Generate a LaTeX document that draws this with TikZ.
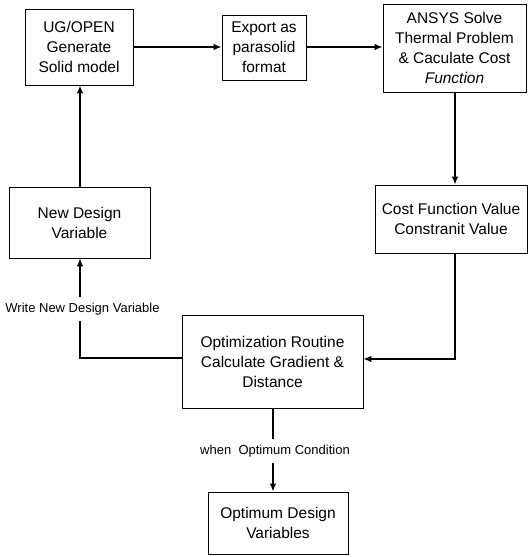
\documentclass[tikz,border=0pt]{standalone}
\usepackage{fontspec}
\setmainfont{Liberation Sans}
\usetikzlibrary{arrows.meta}
\begin{document}
\begin{tikzpicture}[x=1pt,y=-1pt,
  box/.style={draw=black, line width=0.8pt, align=center, inner sep=0pt,
              font=\fontsize{15.5}{20}\selectfont},
  arr/.style={line width=1.3pt, -{Latex[length=8pt,width=6.5pt]}},
  conn/.style={line width=1.3pt},
  lab/.style={fill=white, inner xsep=1pt, inner ysep=6pt, font=\fontsize{13}{15}\selectfont}]
\useasboundingbox (0,0) rectangle (530,557);
\node[box, minimum width=108pt, minimum height=76pt] (ug) at (79,47) {UG/OPEN\\Generate\\Solid model};
\node[box, minimum width=84pt, minimum height=65pt] (exp) at (264,47.5) {Export as\\parasolid\\format};
\node[box, minimum width=143pt, minimum height=88pt] (ans) at (454.5,48) {ANSYS Solve\\Thermal Problem\\\& Caculate Cost\\\textit{Function}};
\node[box, minimum width=152pt, minimum height=68pt] (cost) at (451,219) {Cost Function Value\\Constranit Value};
\node[box, minimum width=141pt, minimum height=71pt] (nd) at (79.5,222.5) {New Design\\Variable};
\node[box, minimum width=181pt, minimum height=93pt] (opt) at (272.5,361.5) {Optimization Routine\\Calculate Gradient \&\\Distance};
\node[box, minimum width=140pt, minimum height=62pt] (od) at (278,523) {Optimum Design\\Variables};

\draw[arr] (ug.east |- 0,47) -- (exp.west |- 0,47);
\draw[arr] (exp.east |- 0,47) -- (ans.west |- 0,47);
\draw[arr] (ans.south -| 455,0) -- (cost.north -| 455,0);
\draw[arr] (cost.south -| 455,0) |- ([yshift=2.5pt]opt.east);
\draw[arr] ([yshift=3.5pt]opt.west) -| (nd.south -| 80,0);
\draw[arr] (nd.north -| 80,0) -- (ug.south -| 80,0);
\draw[arr] (opt.south -| 273,0) -- (od.north -| 273,0);

\node[lab] (wl) at (82.5,309) {Write New Design Variable};
\node[lab] (wo) at (275,451) {when\ \ Optimum Condition};
\end{tikzpicture}
\end{document}
